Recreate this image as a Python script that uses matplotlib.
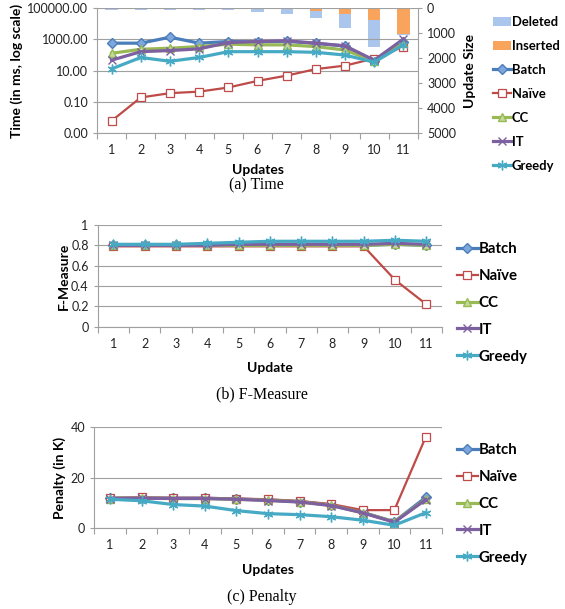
import numpy as np
import matplotlib.pyplot as plt
from matplotlib.ticker import FixedLocator, NullLocator

plt.rcParams['font.family'] = ['Lato', 'DejaVu Sans']

updates = list(range(1, 11 + 1))
series = ['Batch', 'Naïve', 'CC', 'IT', 'Greedy']

# (a) time in ms (log scale) and update sizes
time_batch = [580, 580, 1400, 580, 740, 700, 760, 560, 380, 40, 700]
time_naive = [0.006, 0.19, 0.36, 0.45, 0.83, 2.2, 4.8, 12.6, 21, 60, 350]
time_cc = [130, 235, 275, 350, 500, 450, 450, 350, 210, 40, 580]
time_it = [47, 165, 195, 250, 630, 740, 820, 580, 390, 47, 1070]
time_greedy = [13, 70, 40, 70, 165, 165, 165, 150, 100, 35, 450]
inserted = [0, 0, 0, 0, 0, 0, 40, 100, 230, 470, 1040]
deleted = [70, 70, 70, 70, 70, 130, 190, 300, 570, 1090, 40]

# (b) F-measure
fm_batch = [0.80, 0.80, 0.80, 0.80, 0.80, 0.80, 0.80, 0.80, 0.80, 0.81, 0.80]
fm_naive = [0.79, 0.79, 0.79, 0.79, 0.79, 0.79, 0.79, 0.79, 0.79, 0.46, 0.22]
fm_cc = [0.80, 0.80, 0.80, 0.80, 0.80, 0.80, 0.80, 0.80, 0.80, 0.81, 0.80]
fm_it = [0.80, 0.80, 0.80, 0.80, 0.81, 0.81, 0.81, 0.81, 0.81, 0.82, 0.81]
fm_greedy = [0.81, 0.81, 0.81, 0.82, 0.83, 0.84, 0.84, 0.84, 0.84, 0.85, 0.84]

# (c) penalty in K
pen_batch = [11.9, 12.0, 11.9, 11.9, 11.6, 11.2, 10.6, 9.2, 6.3, 2.6, 12.3]
pen_naive = [12.1, 12.2, 12.1, 12.1, 11.8, 11.5, 10.8, 9.6, 7.2, 7.2, 36.3]
pen_cc = [11.8, 11.9, 11.8, 11.8, 11.5, 11.1, 10.5, 9.1, 6.2, 2.6, 11.6]
pen_it = [11.8, 11.9, 11.8, 11.8, 11.5, 11.0, 10.4, 9.0, 6.1, 2.4, 11.4]
pen_greedy = [11.5, 10.9, 9.4, 8.8, 7.0, 5.8, 5.4, 4.6, 3.2, 1.2, 6.2]

styles = {
    'Batch': dict(color='#4A7EBB', marker='D', mfc='#7FA7DD', mec='#4A7EBB', ms=5.5, lw=2.3),
    'Naïve': dict(color='#BE4B48', marker='s', mfc='white', mec='#BE4B48', ms=5.5, lw=1.6, mew=0.9),
    'CC': dict(color='#98B954', marker='^', mfc='#C3D99C', mec='#98B954', ms=5.5, lw=2.3),
    'IT': dict(color='#7D60A0', marker='x', mec='#7D60A0', ms=5.5, lw=2.3, mew=1.0),
    'Greedy': dict(color='#46AAC5', marker=(6, 2, 0), mec='#46AAC5', ms=7, lw=2.3, mew=1.0),
}

GRID = '#A0A0A0'
W, H = 565, 609
TICK_FS = 9
LAB_FS = 10


def frac(l, t, r, b):
    return [l / W, 1 - b / H, (r - l) / W, (b - t) / H]


def style_axes(ax):
    for s in ['top', 'right']:
        ax.spines[s].set_visible(False)
    for s in ['left', 'bottom']:
        ax.spines[s].set_color(GRID)
        ax.spines[s].set_linewidth(0.8)
    ax.set_xlim(0.5, 11.5)
    ax.xaxis.set_major_locator(FixedLocator(updates))
    ax.xaxis.set_minor_locator(FixedLocator(np.arange(0.5, 12, 1)))
    ax.tick_params(axis='x', which='major', length=0, pad=8, labelsize=TICK_FS, colors='#222222')
    ax.tick_params(axis='x', which='minor', length=4, color=GRID, width=0.8)
    ax.tick_params(axis='y', length=3, color=GRID, width=0.8, labelsize=TICK_FS, labelcolor='#222222')
    ax.yaxis.grid(True, color=GRID, lw=0.8)
    ax.set_axisbelow(True)


def legend(fig, handles, labels, x, y, spacing, fs):
    fig.legend(handles, labels, loc='upper left', bbox_to_anchor=(x / W, 1 - y / H),
               frameon=False, prop=dict(weight='bold', size=fs), handlelength=1.4,
               handletextpad=0.05, labelspacing=spacing, borderpad=0, borderaxespad=0)


fig = plt.figure(figsize=(W / 100, H / 100), dpi=100)

# ---- (a) Time
ax = fig.add_axes(frac(97, 8.3, 418, 133))
ax2 = ax.twinx()
ax.set_zorder(ax2.get_zorder() + 1)
ax.patch.set_visible(False)
style_axes(ax)
ax.set_yscale('log')
ax.set_ylim(0.001, 100000)
ax.yaxis.set_major_locator(FixedLocator([1e-3, 1e-1, 1e1, 1e3, 1e5]))
ax.yaxis.set_minor_locator(NullLocator())
ax.set_yticklabels(['0.00', '0.10', '10.00', '1000.00', '100000.00'])

b1 = ax2.bar(updates, inserted, width=0.42, color='#F9A45C', zorder=1)
b2 = ax2.bar(updates, deleted, width=0.42, bottom=inserted, color='#ABC6EC', zorder=1)
ax2.set_ylim(5000, 0)
ax2.set_yticks(range(0, 5001, 1000))
ax2.tick_params(axis='y', length=3, color=GRID, width=0.8, labelsize=TICK_FS, labelcolor='#222222')
for s in ['top', 'left', 'bottom']:
    ax2.spines[s].set_visible(False)
ax2.spines['right'].set_color(GRID)
ax2.spines['right'].set_linewidth(0.8)
ax2.set_ylabel('Update Size', fontsize=LAB_FS, fontweight='bold', labelpad=6)

hs = []
for name, vals in zip(series, [time_batch, time_naive, time_cc, time_it, time_greedy]):
    hs.append(ax.plot(updates, vals, label=name, **styles[name])[0])
ax.set_ylabel('Time (in ms, log scale)', fontsize=LAB_FS, fontweight='bold', labelpad=3)
fig.text(258 / W, 1 - 170 / H, 'Updates', ha='center', va='center', fontsize=LAB_FS, fontweight='bold')
fig.text(256 / W, 1 - 185 / H, '(a) Time', ha='center', va='center', fontsize=11.5, family='Liberation Serif')
legend(fig, [b2, b1] + hs, ['Deleted', 'Inserted'] + series, 493, 16, 0.92, 9.4)

# ---- (b) F-Measure
axb = fig.add_axes(frac(97.7, 225, 442, 326.7))
style_axes(axb)
axb.set_ylim(0, 1)
axb.set_yticks([0, 0.2, 0.4, 0.6, 0.8, 1])
axb.set_yticklabels(['0', '0.2', '0.4', '0.6', '0.8', '1'])
hs = []
for name, vals in zip(series, [fm_batch, fm_naive, fm_cc, fm_it, fm_greedy]):
    hs.append(axb.plot(updates, vals, label=name, **styles[name])[0])
axb.set_ylabel('F-Measure', fontsize=LAB_FS, fontweight='bold', labelpad=1)
fig.text(270 / W, 1 - 368 / H, 'Update', ha='center', va='center', fontsize=LAB_FS, fontweight='bold')
fig.text(262 / W, 1 - 394 / H, '(b) F-Measure', ha='center', va='center', fontsize=11.5, family='Liberation Serif')
legend(fig, hs, series, 457, 242, 0.86, 10.8)

# ---- (c) Penalty
axc = fig.add_axes(frac(94.3, 427.3, 441.7, 528.3))
style_axes(axc)
axc.set_ylim(0, 40)
axc.set_yticks([0, 20, 40])
hs = []
for name, vals in zip(series, [pen_batch, pen_naive, pen_cc, pen_it, pen_greedy]):
    hs.append(axc.plot(updates, vals, label=name, **styles[name])[0])
axc.set_ylabel('Penalty (in K)', fontsize=LAB_FS, fontweight='bold', labelpad=3)
fig.text(268 / W, 1 - 570 / H, 'Updates', ha='center', va='center', fontsize=LAB_FS, fontweight='bold')
fig.text(262 / W, 1 - 597 / H, '(c) Penalty', ha='center', va='center', fontsize=11.5, family='Liberation Serif')
legend(fig, hs, series, 457, 443, 0.86, 10.8)

fig.savefig('out.png', dpi=100)
